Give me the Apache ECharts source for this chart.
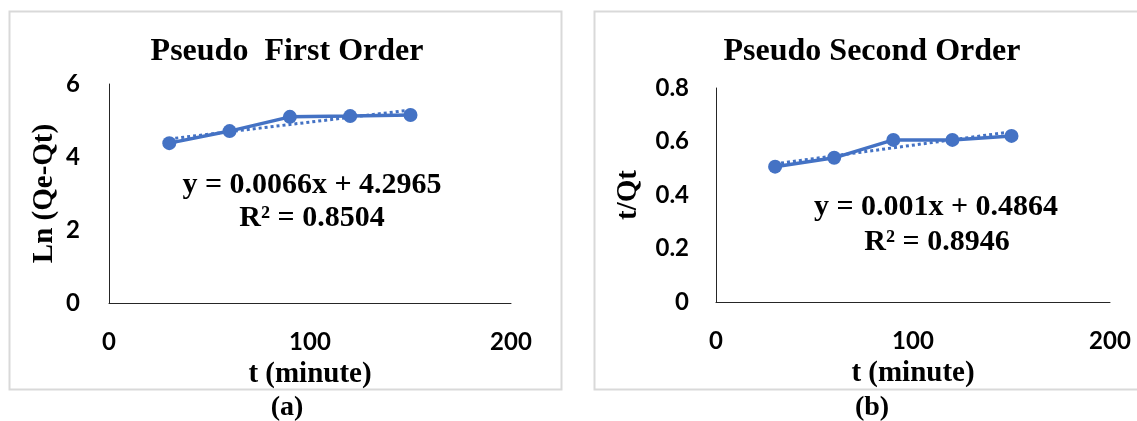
<!DOCTYPE html>
<html>
<head>
<meta charset="utf-8">
<title>Adsorption kinetics</title>
<script src="https://cdn.jsdelivr.net/npm/echarts@6.0.0/dist/echarts.min.js"></script>
<style>
  html, body { margin: 0; padding: 0; background: #ffffff; }
  #chart { width: 1137px; height: 421px; }
</style>
</head>
<body>
<div id="chart"></div>
<script>
// Contact time (minutes)
const timeMin = [30, 60, 90, 120, 150];

// (a) pseudo first order: ln(Qe - Qt)
const lnQeQt = [4.38, 4.71, 5.10, 5.12, 5.15];
const slopeA = 0.0066;
const interceptA = 4.2965;
const r2A = '0.8504';

// (b) pseudo second order: t / Qt
const tOverQt = [0.506, 0.539, 0.606, 0.606, 0.621];
const slopeB = 0.001;
const interceptB = 0.4864;
const r2B = '0.8946';

// Axis ticks
const xTicks = [0, 100, 200];
const yTicksA = [0, 2, 4, 6];
const yTicksB = ['0', '0.2', '0.4', '0.6', '0.8'];

const BLUE = '#4472C4';
const SERIF = "'Liberation Serif', 'Times New Roman', serif";
const SANS = "Lato, 'Open Sans', sans-serif";

function pairs(xs, ys) { return xs.map((x, i) => [x, ys[i]]); }
// Linear fit drawn across the measured time range from the stated equation
function fitLine(xs, m, b) {
  const x0 = xs[0], x1 = xs[xs.length - 1];
  return [[x0, m * x0 + b], [x1, m * x1 + b]];
}

function xAxisFor(gridIndex) {
  return {
    gridIndex, type: 'value',
    min: xTicks[0], max: xTicks[xTicks.length - 1], interval: xTicks[1] - xTicks[0],
    axisLine: { show: true, onZero: false, lineStyle: { color: '#262626', width: 1 } },
    axisTick: { show: false },
    splitLine: { show: false },
    axisLabel: { fontFamily: SANS, fontWeight: 'bold', fontSize: 24, color: '#000', margin: 27 },
    name: 't (minute)', nameLocation: 'middle', nameGap: 57,
    nameTextStyle: { fontFamily: SERIF, fontWeight: 'bold', fontSize: 29, color: '#000' }
  };
}

function yAxisFor(gridIndex, ticks, name, gap, margin) {
  const nums = ticks.map(Number);
  return {
    gridIndex, type: 'value',
    min: nums[0], max: nums[nums.length - 1], interval: nums[1] - nums[0],
    axisLine: { show: true, lineStyle: { color: '#262626', width: 1 } },
    axisTick: { show: false },
    splitLine: { show: false },
    axisLabel: {
      fontFamily: SANS, fontWeight: 'bold', fontSize: 24, color: '#000', margin,
      formatter: v => String(ticks[Math.round((v - nums[0]) / (nums[1] - nums[0]))])
    },
    name, nameLocation: 'middle', nameRotate: 90, nameGap: gap,
    nameTextStyle: { fontFamily: SERIF, fontWeight: 'bold', fontSize: 29, color: '#000' }
  };
}

function dataSeries(axis, xs, ys) {
  return {
    type: 'line', xAxisIndex: axis, yAxisIndex: axis, data: pairs(xs, ys), z: 3,
    symbol: 'circle', symbolSize: 14,
    itemStyle: { color: BLUE },
    lineStyle: { color: BLUE, width: 3.5 }
  };
}

function trendSeries(axis, xs, m, b) {
  return {
    type: 'line', xAxisIndex: axis, yAxisIndex: axis, data: fitLine(xs, m, b), z: 2,
    showSymbol: false, silent: true,
    lineStyle: { color: BLUE, width: 3, type: [3, 3] }
  };
}

function label(text, x, y, size) {
  return {
    type: 'text', x, y, silent: true,
    style: {
      text, fill: '#000', align: 'center', verticalAlign: 'middle',
      font: 'bold ' + size + 'px ' + SERIF
    }
  };
}

const fmt = (m, b) => 'y = ' + m + 'x + ' + b;

const chart = echarts.init(document.getElementById('chart'), null, { renderer: 'canvas' });
chart.setOption({
  animation: false,
  backgroundColor: '#ffffff',
  grid: [
    { left: 109, top: 84, width: 402, height: 219 },
    { left: 716, top: 88, width: 394, height: 214 }
  ],
  xAxis: [xAxisFor(0), xAxisFor(1)],
  yAxis: [
    yAxisFor(0, yTicksA.map(String), 'Ln (Qe-Qt)', 50, 29),
    yAxisFor(1, yTicksB, 't/Qt', 73, 27)
  ],
  series: [
    trendSeries(0, timeMin, slopeA, interceptA),
    dataSeries(0, timeMin, lnQeQt),
    trendSeries(1, timeMin, slopeB, interceptB),
    dataSeries(1, timeMin, tOverQt)
  ],
  graphic: [
    { type: 'rect', silent: true, z: -1,
      shape: { x: 9.5, y: 11.5, width: 552, height: 378 },
      style: { fill: 'none', stroke: '#d9d9d9', lineWidth: 2 } },
    { type: 'rect', silent: true, z: -1,
      shape: { x: 594.5, y: 11.5, width: 560, height: 378 },
      style: { fill: 'none', stroke: '#d9d9d9', lineWidth: 2 } },
    label('Pseudo  First Order', 287, 52, 32),
    label('Pseudo Second Order', 872, 52, 32),
    label(fmt(slopeA, interceptA), 312, 185, 30),
    label('R² = ' + r2A, 312, 218, 30),
    label(fmt(slopeB, interceptB), 936, 207, 30),
    label('R² = ' + r2B, 937, 242, 30),
    label('(a)', 287, 408, 28),
    label('(b)', 872, 408, 28)
  ]
});
</script>
</body>
</html>
